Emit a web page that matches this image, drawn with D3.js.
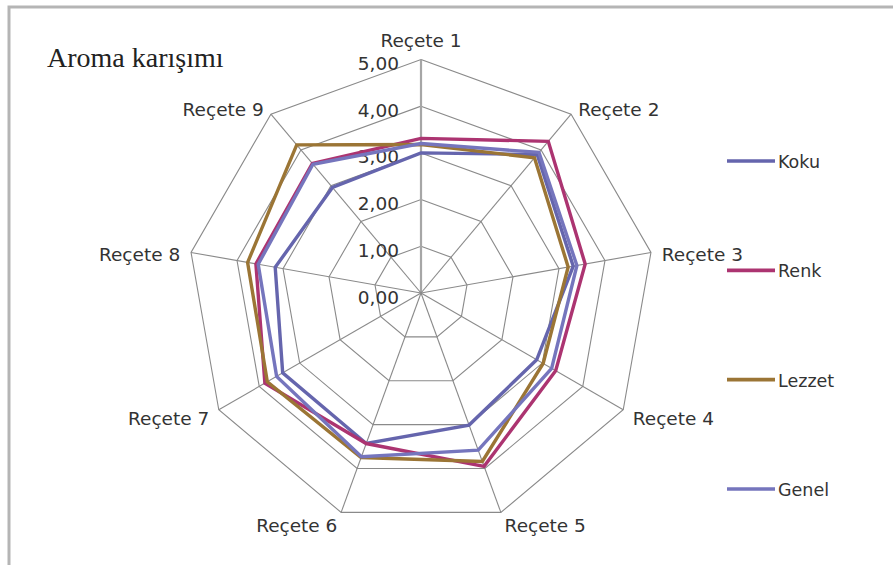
<!DOCTYPE html>
<html><head><meta charset="utf-8">
<script src="https://cdn.jsdelivr.net/npm/d3@7"></script>
<style>html,body{margin:0;padding:0;background:#fff;}svg{display:block;}</style>
</head><body>
<svg id="c" width="893" height="565"></svg>
<script>
const categories = ["Reçete 1","Reçete 2","Reçete 3","Reçete 4","Reçete 5","Reçete 6","Reçete 7","Reçete 8","Reçete 9"];
const seriesNames = ["Koku","Renk","Lezzet","Genel"];
const koku   = [3.00, 3.87, 3.31, 2.86, 3.01, 3.43, 3.42, 3.17, 2.95];
const renk   = [3.31, 4.24, 3.57, 3.33, 3.95, 3.43, 3.86, 3.59, 3.62];
const lezzet = [3.18, 3.78, 3.20, 3.02, 3.84, 3.75, 3.80, 3.77, 4.14];
const genel  = [3.20, 3.93, 3.39, 3.23, 3.58, 3.73, 3.57, 3.54, 3.60];
const tickValues = [0,1,2,3,4,5];
const tickLabels = ["0,00","1,00","2,00","3,00","4,00","5,00"];
const colors = ["#6565ad","#ac3471","#9b7535","#7575bd"];
const title = "Aroma karışımı";

const svg = d3.select("#c");
const cx = 421, cy = 293, R = 233.5;
const r = d3.scaleLinear().domain([0,5]).range([0,R]);
const ang = d3.scaleLinear().domain([0,categories.length]).range([0,2*Math.PI]);
const pt = (i,v) => [cx + r(v)*Math.sin(ang(i)), cy - r(v)*Math.cos(ang(i))];

// frame
svg.append("path").attr("d","M9,565 L9,7 L893,7").attr("fill","none")
  .attr("stroke","#b5b5b5").attr("stroke-width",3);

// title
svg.append("text").attr("x",47).attr("y",67).text(title)
  .attr("font-family","'Liberation Serif','Times New Roman',serif")
  .attr("font-size",28).attr("fill","#222");

// grid rings
const g = svg.append("g");
tickValues.slice(1).forEach(t=>{
  const pts = categories.map((c,i)=>pt(i,t));
  g.append("path").attr("d", d3.line()(pts)+"Z").attr("fill","none")
    .attr("stroke","#8a8a8a").attr("stroke-width",1.1);
});
// spokes
categories.forEach((c,i)=>{
  const p = pt(i,5);
  g.append("line").attr("x1",cx).attr("y1",cy).attr("x2",p[0]).attr("y2",p[1])
    .attr("stroke", i===0 ? "#a6a6a6" : "#8a8a8a")
    .attr("stroke-width", i===0 ? 2.2 : 1.1);
});

// tick labels
tickValues.forEach((t,k)=>{
  svg.append("text").attr("x",399).attr("y",cy - r(t) + 10.5)
    .attr("text-anchor","end").text(tickLabels[k])
    .attr("font-family","'DejaVu Sans',sans-serif").attr("font-size",18.5).attr("fill","#333");
});

// category labels
categories.forEach((c,i)=>{
  const p = pt(i,5);
  const s = Math.sin(ang(i)), co = Math.cos(ang(i));
  let anchor = Math.abs(s)<0.1 ? "middle" : (s>0 ? "start" : "end");
  let x = p[0] + 11*s;
  let y = i===0 ? p[1]-13 : p[1] + 10 - 10*co;
  svg.append("text").attr("x",x).attr("y",y).attr("text-anchor",anchor).text(c)
    .attr("font-family","'DejaVu Sans',sans-serif").attr("font-size",18.5).attr("fill","#333");
});

// series
const data = [koku, renk, lezzet, genel];
const line = d3.line().x(d=>d[0]).y(d=>d[1]);
data.forEach((vals,k)=>{
  const pts = vals.map((v,i)=>pt(i,v));
  svg.append("path").attr("d", line(pts)+"Z").attr("fill","none")
    .attr("stroke",colors[k]).attr("stroke-width",3.4).attr("stroke-linejoin","miter");
});

// legend
const ly = d3.scalePoint().domain(seriesNames).range([161,489]);
seriesNames.forEach((n,k)=>{
  svg.append("line").attr("x1",727).attr("x2",775).attr("y1",ly(n)).attr("y2",ly(n))
    .attr("stroke",colors[k]).attr("stroke-width",3.6);
  svg.append("text").attr("x",778).attr("y",ly(n)+7).text(n)
    .attr("font-family","'DejaVu Sans',sans-serif").attr("font-size",17.5).attr("fill","#333");
});
</script>
</body></html>
